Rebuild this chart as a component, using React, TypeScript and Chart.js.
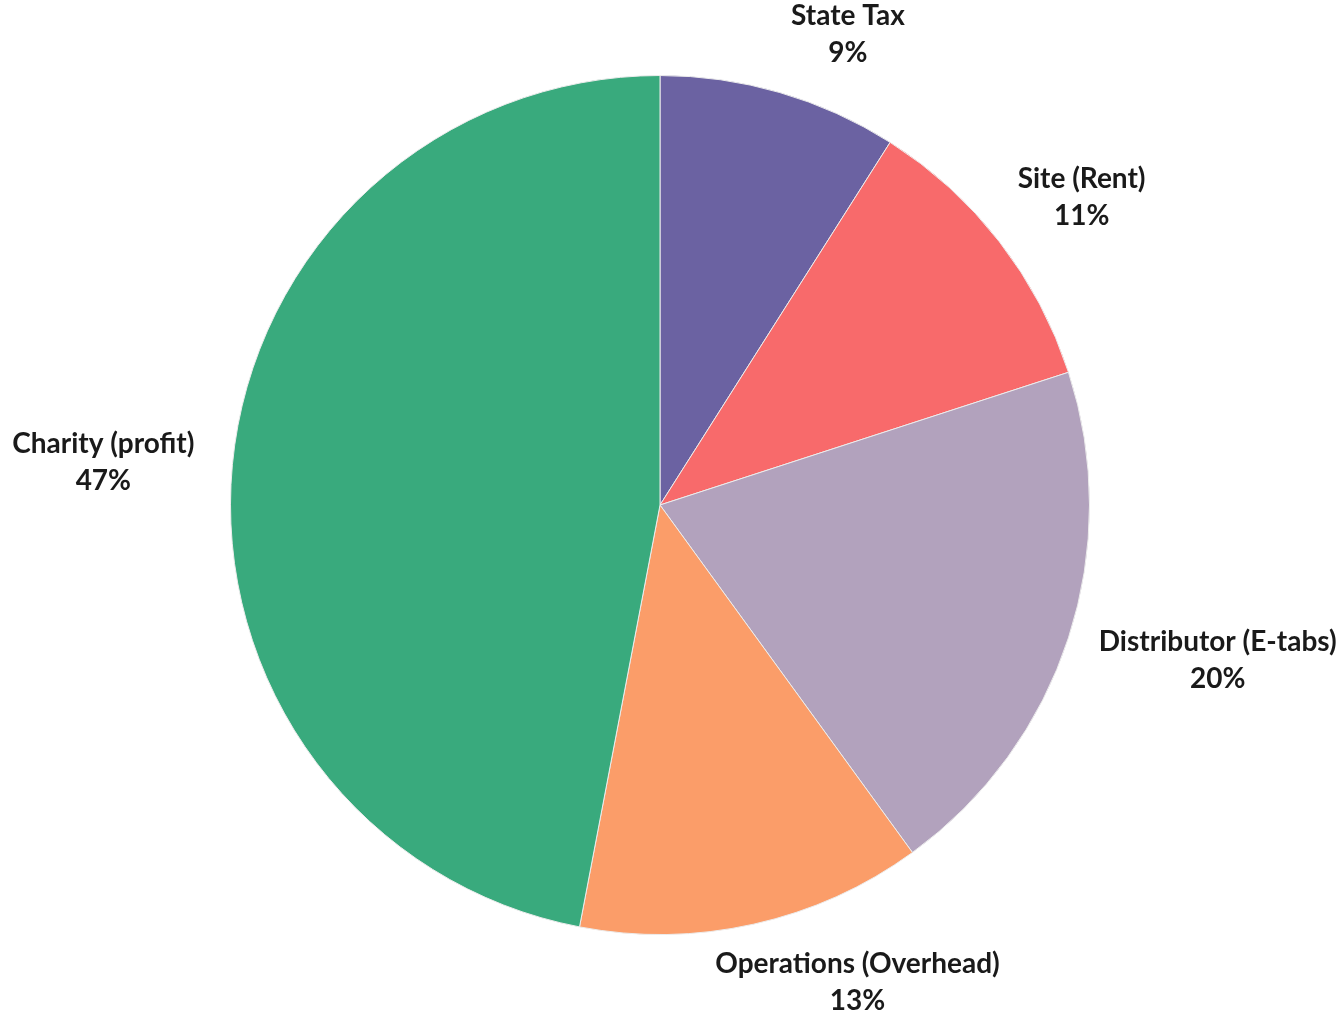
import React, { useEffect, useRef } from "react";
import { Chart, registerables } from "chart.js";

Chart.register(...registerables);

const categories = ["State Tax", "Site (Rent)", "Distributor (E-tabs)", "Operations (Overhead)", "Charity (profit)"];
const shares = [9, 11, 20, 13, 47];
const sliceColors = ["#6b62a2", "#f86a6b", "#b2a2bd", "#fb9d69", "#39aa7d"];

const FONT = "bold 28px Lato, 'Open Sans', sans-serif";
const LINE_GAP = 37;
const LABEL_GAP = 38;
// small angular nudges (degrees) mimicking the spreadsheet's label placement
const LABEL_NUDGE = [4.8, 0.3, 0, -6.3, -0.6];

const outsideLabels = {
  id: "outsideLabels",
  afterDatasetsDraw(chart: any) {
    const ctx = chart.ctx;
    const meta = chart.getDatasetMeta(0);
    const total = shares.reduce((a, b) => a + b, 0);
    const H = chart.height;
    ctx.save();
    ctx.font = FONT;
    ctx.fillStyle = "#1a1a1a";
    ctx.textAlign = "center";
    ctx.textBaseline = "middle";
    meta.data.forEach((arc: any, i: number) => {
      const { x, y, startAngle, endAngle, outerRadius } = arc.getProps(
        ["x", "y", "startAngle", "endAngle", "outerRadius"],
        true
      );
      const mid = (startAngle + endAngle) / 2 + ((LABEL_NUDGE[i] || 0) * Math.PI) / 180;
      const ux = Math.cos(mid);
      const uy = Math.sin(mid);
      const pct = Math.round((shares[i] / total) * 100) + "%";
      const lines = [categories[i], pct];
      const w = Math.max(...lines.map((l) => ctx.measureText(l).width));
      const h = LINE_GAP * 2;
      const ax = x + ux * (outerRadius + LABEL_GAP);
      const ay = y + uy * (outerRadius + LABEL_GAP);
      const cx = ax + (ux * w) / 2;
      let cy = ay + (uy * h) / 2;
      cy = Math.min(Math.max(cy, h / 2 - 5), H - h / 2 + 12);
      ctx.fillText(lines[0], cx, cy - LINE_GAP / 2);
      ctx.fillText(lines[1], cx, cy + LINE_GAP / 2);
    });
    ctx.restore();
  },
};

export default function App() {
  const ref = useRef<HTMLCanvasElement | null>(null);
  useEffect(() => {
    document.body.style.margin = "0";
    document.body.style.background = "#ffffff";
    const chart = new Chart(ref.current as HTMLCanvasElement, {
      type: "pie",
      data: {
        labels: categories,
        datasets: [
          {
            data: shares,
            backgroundColor: sliceColors,
            borderColor: "#ececec",
            borderWidth: 1,
          },
        ],
      },
      options: {
        responsive: false,
        animation: false,
        layout: { padding: { left: 230, right: 254, top: 75, bottom: 83 } },
        plugins: {
          legend: { display: false },
          tooltip: { enabled: false },
        },
      },
      plugins: [outsideLabels],
    });
    return () => chart.destroy();
  }, []);
  return (
    <div style={{ width: 1344, height: 1018, background: "#fff" }}>
      <canvas ref={ref} width={1344} height={1018} style={{ display: "block" }} />
    </div>
  );
}
